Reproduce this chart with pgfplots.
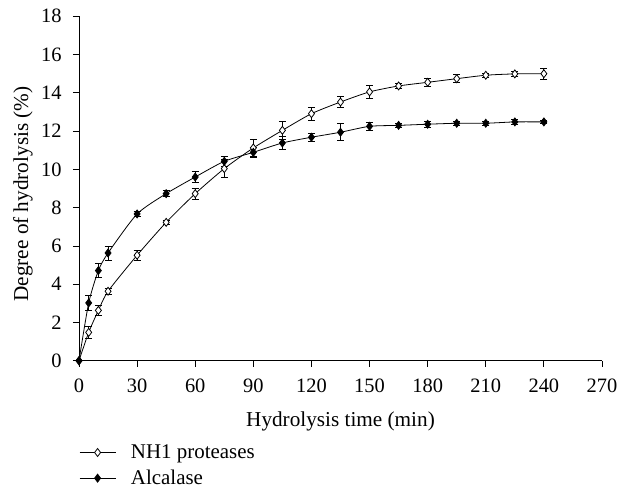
\documentclass[border=0pt]{standalone}
\usepackage{pgfplots}
\pgfplotsset{compat=1.18}
\usepackage{fontspec}
\setmainfont{Liberation Serif}
\begin{document}
\begin{tikzpicture}
\useasboundingbox (-79bp,-129.3bp) rectangle (541bp,360.7bp);
\begin{axis}[
  at={(0,0)}, anchor=south west,
  scale only axis,
  width=523bp, height=344.4bp,
  xmin=0, xmax=270, ymin=0, ymax=18,
  xtick={0,30,...,270}, ytick={0,2,...,18},
  axis lines=left,
  axis line style={-, line width=0.8pt},
  tick style={black, line width=0.8pt},
  tick align=outside,
  major tick length=6bp,
  /pgf/number format/assume math mode=true,
  tick label style={font=\fontsize{20.5}{22}\selectfont},
  xticklabel style={yshift=-9bp},
  yticklabel style={xshift=-8bp},
  label style={font=\fontsize{21.3}{23}\selectfont},
  xlabel={Hydrolysis time (min)},
  ylabel={Degree of hydrolysis (\%)},
  xlabel style={at={(axis description cs:0.5,0)}, anchor=center, yshift=-61bp},
  ylabel style={at={(axis description cs:0,0.484)}, anchor=center, yshift=56bp},
  clip=false,
  legend style={draw=none, fill=none, at={(axis description cs:0,-0.238)}, anchor=north west, font=\fontsize{21}{22}\selectfont, row sep=6bp, inner sep=0pt, cells={anchor=west}, /tikz/every odd column/.append style={column sep=13bp}},
  legend image code/.code={\draw[mark repeat=2,mark phase=2,#1,mark size=3pt] plot coordinates {(0bp,0bp) (18bp,0bp) (36bp,0bp)};},
  every axis plot/.append style={line width=0.8pt},
]
\addplot+[black, smooth, tension=0.4, mark=diamond*, mark options={fill=white, mark size=4pt, line width=0.8pt},
  error bars/.cd, y dir=both, y explicit, error bar style={line width=0.8pt}, error mark options={rotate=90, mark size=3.5pt, line width=0.8pt}]
coordinates {
(0,0) +- (0,0)
(5,1.48) +- (0,0.30)
(10,2.63) +- (0,0.27)
(15,3.63) +- (0,0.15)
(30,5.51) +- (0,0.27)
(45,7.23) +- (0,0.10)
(60,8.73) +- (0,0.29)
(75,10.04) +- (0,0.48)
(90,11.12) +- (0,0.46)
(105,12.04) +- (0,0.47)
(120,12.91) +- (0,0.35)
(135,13.52) +- (0,0.29)
(150,14.05) +- (0,0.35)
(165,14.36) +- (0,0.15)
(180,14.55) +- (0,0.20)
(195,14.74) +- (0,0.20)
(210,14.92) +- (0,0.12)
(225,14.99) +- (0,0.15)
(240,15.00) +- (0,0.29)
};
\addlegendentry{NH1 proteases}
\addplot+[black, smooth, tension=0.4, mark=diamond*, mark options={fill=black, mark size=4pt, line width=0.8pt},
  error bars/.cd, y dir=both, y explicit, error bar style={line width=0.8pt}, error mark options={rotate=90, mark size=3.5pt, line width=0.8pt}]
coordinates {
(0,0) +- (0,0)
(5,3.02) +- (0,0.37)
(10,4.71) +- (0,0.35)
(15,5.63) +- (0,0.37)
(30,7.67) +- (0,0.15)
(45,8.73) +- (0,0.15)
(60,9.60) +- (0,0.29)
(75,10.42) +- (0,0.24)
(90,10.89) +- (0,0.24)
(105,11.38) +- (0,0.33)
(120,11.68) +- (0,0.20)
(135,11.94) +- (0,0.44)
(150,12.25) +- (0,0.20)
(165,12.30) +- (0,0.10)
(180,12.36) +- (0,0.15)
(195,12.41) +- (0,0.10)
(210,12.41) +- (0,0.10)
(225,12.48) +- (0,0.12)
(240,12.48) +- (0,0.10)
};
\addlegendentry{Alcalase}
\end{axis}
\end{tikzpicture}
\end{document}
